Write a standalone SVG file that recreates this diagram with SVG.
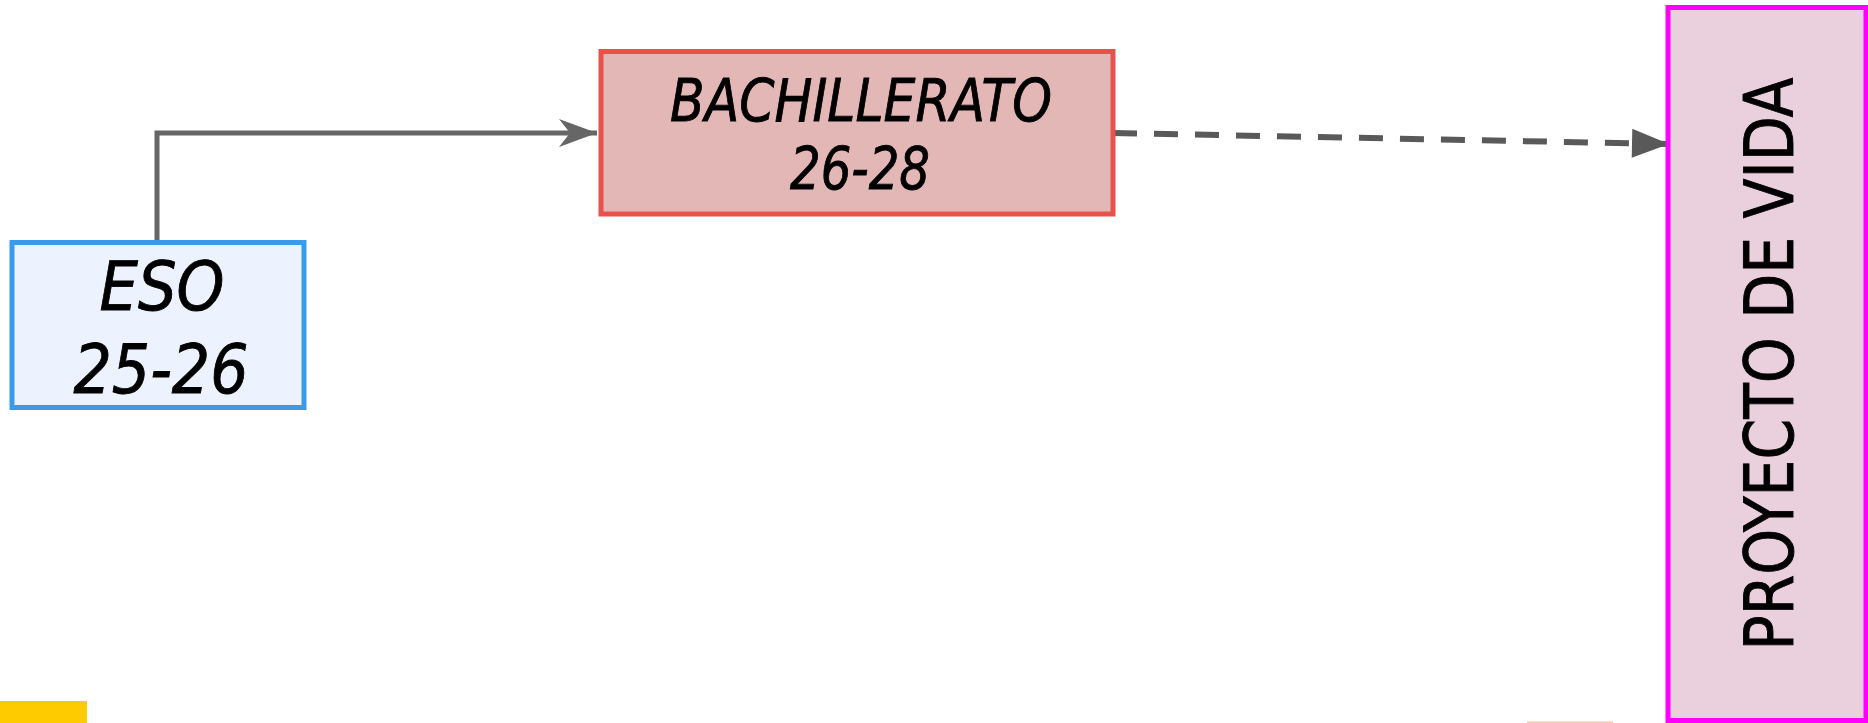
<svg xmlns="http://www.w3.org/2000/svg" width="1868" height="723" viewBox="0 0 1868 723">
<style>
.lbl{font-family:"DejaVu Sans","Liberation Sans",sans-serif;fill:#000;text-anchor:middle;stroke:#000;stroke-width:0.9}
.it{font-style:italic}
.conn{fill:none;stroke-linejoin:miter}
</style>
<defs>
<marker id="open" markerUnits="userSpaceOnUse" markerWidth="40" markerHeight="30" refX="38" refY="14" orient="auto" overflow="visible">
<path d="M0,0 L38,14 L0,28 L11,14 z" fill="#666666"/>
</marker>
<marker id="tri" markerUnits="userSpaceOnUse" markerWidth="40" markerHeight="30" refX="37" refY="14.5" orient="auto" overflow="visible">
<path d="M0,0 L37,14.5 L0,29 z" fill="#595959"/>
</marker>
</defs>
<rect x="0" y="701" width="87" height="22" fill="#FECB00"/>
<rect x="1527" y="721.5" width="86" height="1.5" fill="#FBC6AC"/>
<g id="connectors">
<path class="conn" d="M157,242 V133 H597" stroke="#666666" stroke-width="5" marker-end="url(#open)"/>
<path class="conn" d="M1113,133 L1669,144" stroke="#595959" stroke-width="6" stroke-dasharray="24 17" marker-end="url(#tri)"/>
</g>
<g id="eso">
<rect x="12" y="242.5" width="292" height="165" fill="#ECF2FE" stroke="#3B9BEA" stroke-width="5"/>
<text class="lbl it" x="162" y="310" font-size="68" textLength="125" lengthAdjust="spacingAndGlyphs">ESO</text>
<text class="lbl it" x="161" y="393" font-size="68" textLength="175" lengthAdjust="spacingAndGlyphs">25-26</text>
</g>
<g id="bachillerato">
<rect x="601" y="51.5" width="512" height="162.5" fill="#E4B7B7" stroke="#E9524B" stroke-width="5"/>
<text class="lbl it" x="861" y="121" font-size="58" textLength="382" lengthAdjust="spacingAndGlyphs">BACHILLERATO</text>
<text class="lbl it" x="860" y="189" font-size="58" textLength="140" lengthAdjust="spacingAndGlyphs">26-28</text>
</g>
<g id="proyecto">
<rect x="1668" y="7.5" width="198" height="713" fill="#EACFDC" stroke="#FF00FF" stroke-width="5"/>
<text class="lbl" transform="translate(1793,364) rotate(-90)" x="0" y="0" font-size="67" textLength="573" lengthAdjust="spacingAndGlyphs">PROYECTO DE VIDA</text>
</g>
</svg>
